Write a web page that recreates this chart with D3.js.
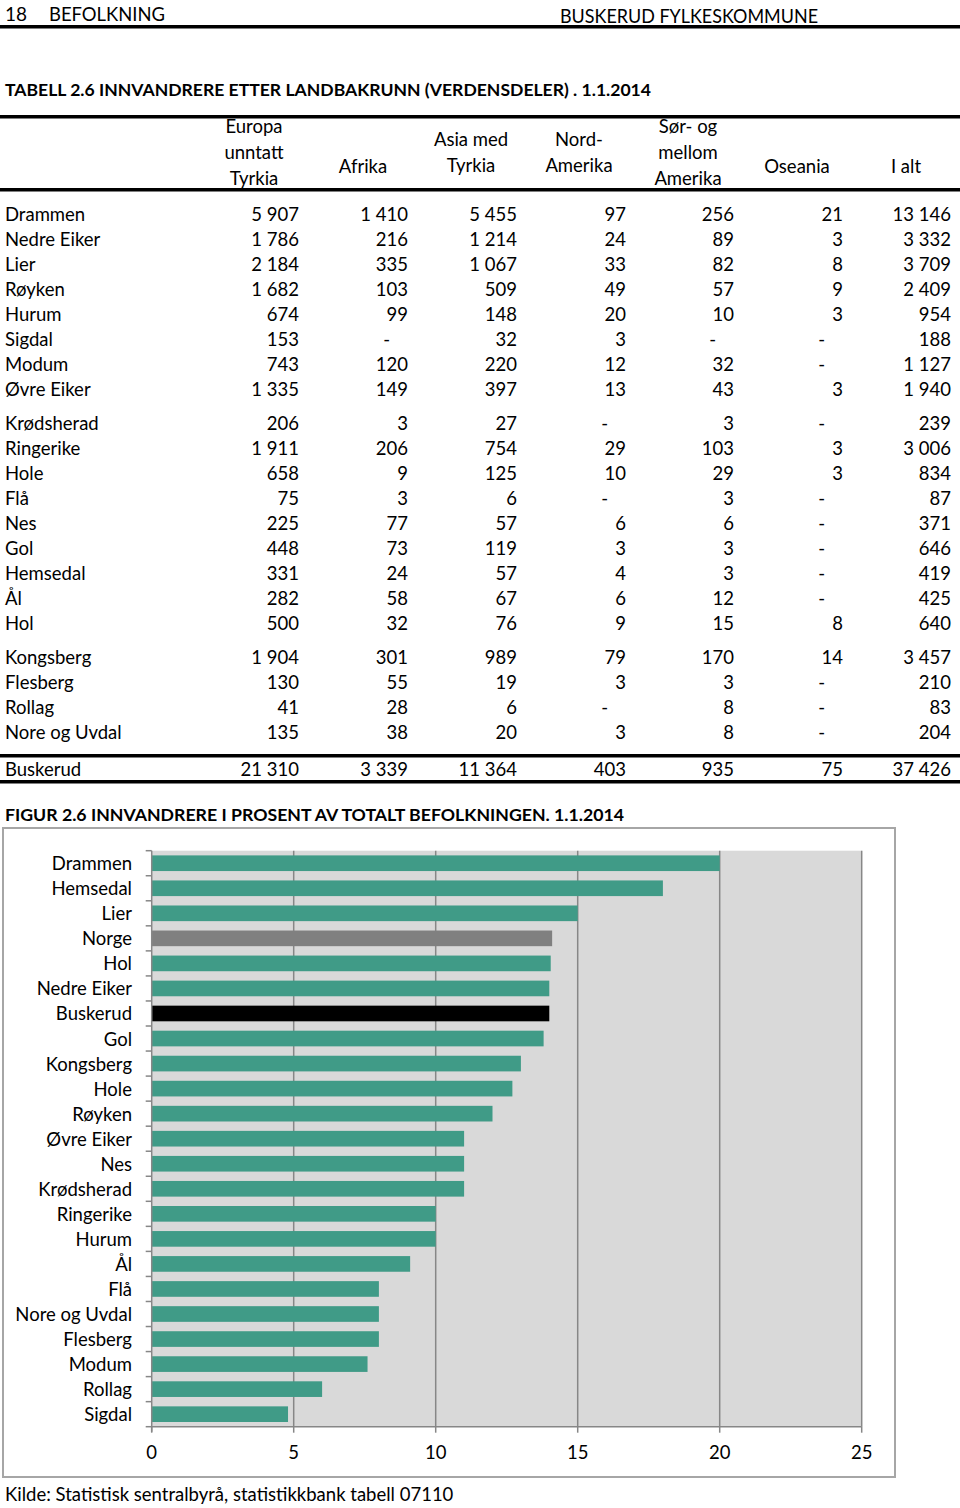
<!DOCTYPE html>
<html><head><meta charset="utf-8">
<script src="https://cdn.jsdelivr.net/npm/d3@7"></script>
<style>
body{margin:0;background:#fff}
svg{display:block}
text{font-family:Lato,"Open Sans",sans-serif;fill:#000}
</style>
</head><body>
<svg id="c" width="960" height="1508"></svg>
<script>
// ---------- DATA ----------
const pageHeaderLeft = ["18", "BEFOLKNING"];
const pageHeaderRight = "BUSKERUD FYLKESKOMMUNE";
const tableTitle = "TABELL 2.6 INNVANDRERE ETTER LANDBAKRUNN (VERDENSDELER) . 1.1.2014";
const figureTitle = "FIGUR 2.6 INNVANDRERE I PROSENT AV TOTALT BEFOLKNINGEN. 1.1.2014";
const sourceNote = "Kilde: Statistisk sentralbyrå, statistikkbank tabell 07110";

const columnHeaders = [["Europa","unntatt","Tyrkia"],["Afrika"],["Asia med","Tyrkia"],["Nord-","Amerika"],["Sør- og","mellom","Amerika"],["Oseania"],["I alt"]];

const tableRegions = ["Drammen","Nedre Eiker","Lier","Røyken","Hurum","Sigdal","Modum","Øvre Eiker",
  "Krødsherad","Ringerike","Hole","Flå","Nes","Gol","Hemsedal","Ål","Hol",
  "Kongsberg","Flesberg","Rollag","Nore og Uvdal"];
const groupStarts = [8, 17];
const europa      = [5907,1786,2184,1682,674,153,743,1335, 206,1911,658,75,225,448,331,282,500, 1904,130,41,135];
const afrika      = [1410,216,335,103,99,null,120,149, 3,206,9,3,77,73,24,58,32, 301,55,28,38];
const asia        = [5455,1214,1067,509,148,32,220,397, 27,754,125,6,57,119,57,67,76, 989,19,6,20];
const nordAmerika = [97,24,33,49,20,3,12,13, null,29,10,null,6,3,4,6,9, 79,3,null,3];
const sorMellomAmerika = [256,89,82,57,10,null,32,43, 3,103,29,3,6,3,3,12,15, 170,3,8,8];
const oseania     = [21,3,8,9,3,null,null,3, null,3,3,null,null,null,null,null,8, 14,null,null,null];
const iAlt        = [13146,3332,3709,2409,954,188,1127,1940, 239,3006,834,87,371,646,419,425,640, 3457,210,83,204];
const totalLabel = "Buskerud";
const totalRow = [21310,3339,11364,403,935,75,37426];

const chartCategories = ["Drammen","Hemsedal","Lier","Norge","Hol","Nedre Eiker","Buskerud","Gol","Kongsberg","Hole","Røyken","Øvre Eiker","Nes","Krødsherad","Ringerike","Hurum","Ål","Flå","Nore og Uvdal","Flesberg","Modum","Rollag","Sigdal"];
const chartValues = [20.0,18.0,15.0,14.1,14.05,14.0,14.0,13.8,13.0,12.7,12.0,11.0,11.0,11.0,10.0,10.0,9.1,8.0,8.0,8.0,7.6,6.0,4.8];
const xTicks = [0,5,10,15,20,25];

// ---------- DRAW ----------
const svg = d3.select("#c");
const FS = 18.5;
const loc = d3.formatLocale({decimal:",", thousands:"\u00a0", grouping:[3], currency:["",""]});
const fmt = loc.format(",d");

// page header
svg.append("text").attr("x",5).attr("y",21).attr("font-size",19).text(pageHeaderLeft[0]);
svg.append("text").attr("x",49).attr("y",21).attr("font-size",19).attr("textLength",116).attr("lengthAdjust","spacingAndGlyphs").text(pageHeaderLeft[1]);
svg.append("text").attr("x",560).attr("y",23).attr("font-size",18.5).attr("textLength",258).attr("lengthAdjust","spacingAndGlyphs").text(pageHeaderRight);
svg.append("rect").attr("x",0).attr("y",25).attr("width",960).attr("height",3.5).attr("fill","#000");

// table title
svg.append("text").attr("x",5).attr("y",96).attr("font-size",17.5).attr("font-weight","bold")
  .attr("textLength",646).attr("lengthAdjust","spacingAndGlyphs").text(tableTitle);

// table lines
const hline = (y,h)=>svg.append("rect").attr("x",0).attr("y",y).attr("width",960).attr("height",h).attr("fill","#000");
hline(115,3.5);
hline(188,3.5);
hline(754,3.5);
hline(780,3.5);

const colRight = [299,408,517,626,734,843,951];
const colCenter = [254,363,471,579,688,797,906];
const headerG = svg.append("g");
columnHeaders.forEach((lines,ci)=>{
  const n = lines.length;
  const ys = n===3 ? [126,152,178] : n===2 ? [139,165] : [166];
  lines.forEach((t,li)=>{
    headerG.append("text").attr("x",colCenter[ci]).attr("y",ys[li]).attr("text-anchor","middle")
      .attr("dominant-baseline","central").attr("font-size",FS).text(t);
  });
});

const columns = [europa,afrika,asia,nordAmerika,sorMellomAmerika,oseania,iAlt];
const rowY = i => {
  let g = 0; groupStarts.forEach(s=>{ if(i>=s) g++; });
  return 214 + i*25 + g*9;
};
const body = svg.append("g");
tableRegions.forEach((r,i)=>{
  const y = rowY(i);
  body.append("text").attr("x",5).attr("y",y).attr("dominant-baseline","central").attr("font-size",FS).text(r);
  columns.forEach((col,ci)=>{
    const v = col[i];
    body.append("text").attr("x", v==null ? colRight[ci]-18 : colRight[ci]).attr("y",y)
      .attr("text-anchor","end").attr("dominant-baseline","central").attr("font-size",FS)
      .text(v==null ? "-" : fmt(v));
  });
});
// total row
body.append("text").attr("x",5).attr("y",769).attr("dominant-baseline","central").attr("font-size",FS).text(totalLabel);
totalRow.forEach((v,ci)=>{
  body.append("text").attr("x",colRight[ci]).attr("y",769).attr("text-anchor","end")
    .attr("dominant-baseline","central").attr("font-size",FS).text(fmt(v));
});

// figure title
svg.append("text").attr("x",5).attr("y",814).attr("dominant-baseline","central").attr("font-size",17.5).attr("font-weight","bold")
  .attr("textLength",619).attr("lengthAdjust","spacingAndGlyphs").text(figureTitle);

// chart frame
svg.append("rect").attr("x",3).attr("y",828).attr("width",892).attr("height",649)
  .attr("fill","#fff").attr("stroke","#a6a6a6").attr("stroke-width",2);

const plot = {l:151.7, r:861.7, t:850.7, b:1426.7};
const x = d3.scaleLinear().domain([0,25]).range([plot.l, plot.r]);
const y = d3.scaleBand().domain(chartCategories).range([plot.t, plot.b]).paddingInner(0.375).paddingOuter(0.1875);

svg.append("rect").attr("x",plot.l).attr("y",plot.t).attr("width",plot.r-plot.l).attr("height",plot.b-plot.t).attr("fill","#d9d9d9");

// gridlines
svg.append("g").selectAll("line").data(xTicks.filter(d=>d>0)).join("line")
  .attr("x1",d=>x(d)).attr("x2",d=>x(d)).attr("y1",plot.t).attr("y2",plot.b)
  .attr("stroke","#878787").attr("stroke-width",1.5);

// bars
const barColor = c => c==="Norge" ? "#808080" : c==="Buskerud" ? "#000000" : "#409b87";
svg.append("g").selectAll("rect").data(chartCategories).join("rect")
  .attr("x",x(0)).attr("y",d=>y(d)).attr("height",y.bandwidth())
  .attr("width",(d,i)=>x(chartValues[i])-x(0)).attr("fill",d=>barColor(d));

// y axis
const yAxis = svg.append("g");
yAxis.append("line").attr("x1",plot.l).attr("x2",plot.l).attr("y1",plot.t).attr("y2",plot.b+5)
  .attr("stroke","#878787").attr("stroke-width",1.5);
const step = y.step();
yAxis.selectAll("line.tk").data(d3.range(chartCategories.length+1)).join("line").attr("class","tk")
  .attr("x1",plot.l-6).attr("x2",plot.l).attr("y1",i=>plot.t+i*step).attr("y2",i=>plot.t+i*step)
  .attr("stroke","#878787").attr("stroke-width",1.5);
yAxis.selectAll("text").data(chartCategories).join("text")
  .attr("x",132).attr("y",d=>y(d)+y.bandwidth()/2).attr("text-anchor","end")
  .attr("dominant-baseline","central").attr("font-size",FS).text(d=>d);

// x axis
const xAxis = svg.append("g");
xAxis.append("line").attr("x1",plot.l).attr("x2",plot.r).attr("y1",plot.b).attr("y2",plot.b)
  .attr("stroke","#878787").attr("stroke-width",1.5);
xAxis.selectAll("line.tk").data(xTicks).join("line").attr("class","tk")
  .attr("x1",d=>x(d)).attr("x2",d=>x(d)).attr("y1",plot.b).attr("y2",plot.b+6)
  .attr("stroke","#878787").attr("stroke-width",1.5);
xAxis.selectAll("text").data(xTicks).join("text")
  .attr("x",d=>x(d)).attr("y",1452).attr("text-anchor","middle").attr("dominant-baseline","central")
  .attr("font-size",FS).text(d=>d);

// source
svg.append("text").attr("x",5).attr("y",1494).attr("dominant-baseline","central").attr("font-size",FS).text(sourceNote);
</script>
</body></html>
